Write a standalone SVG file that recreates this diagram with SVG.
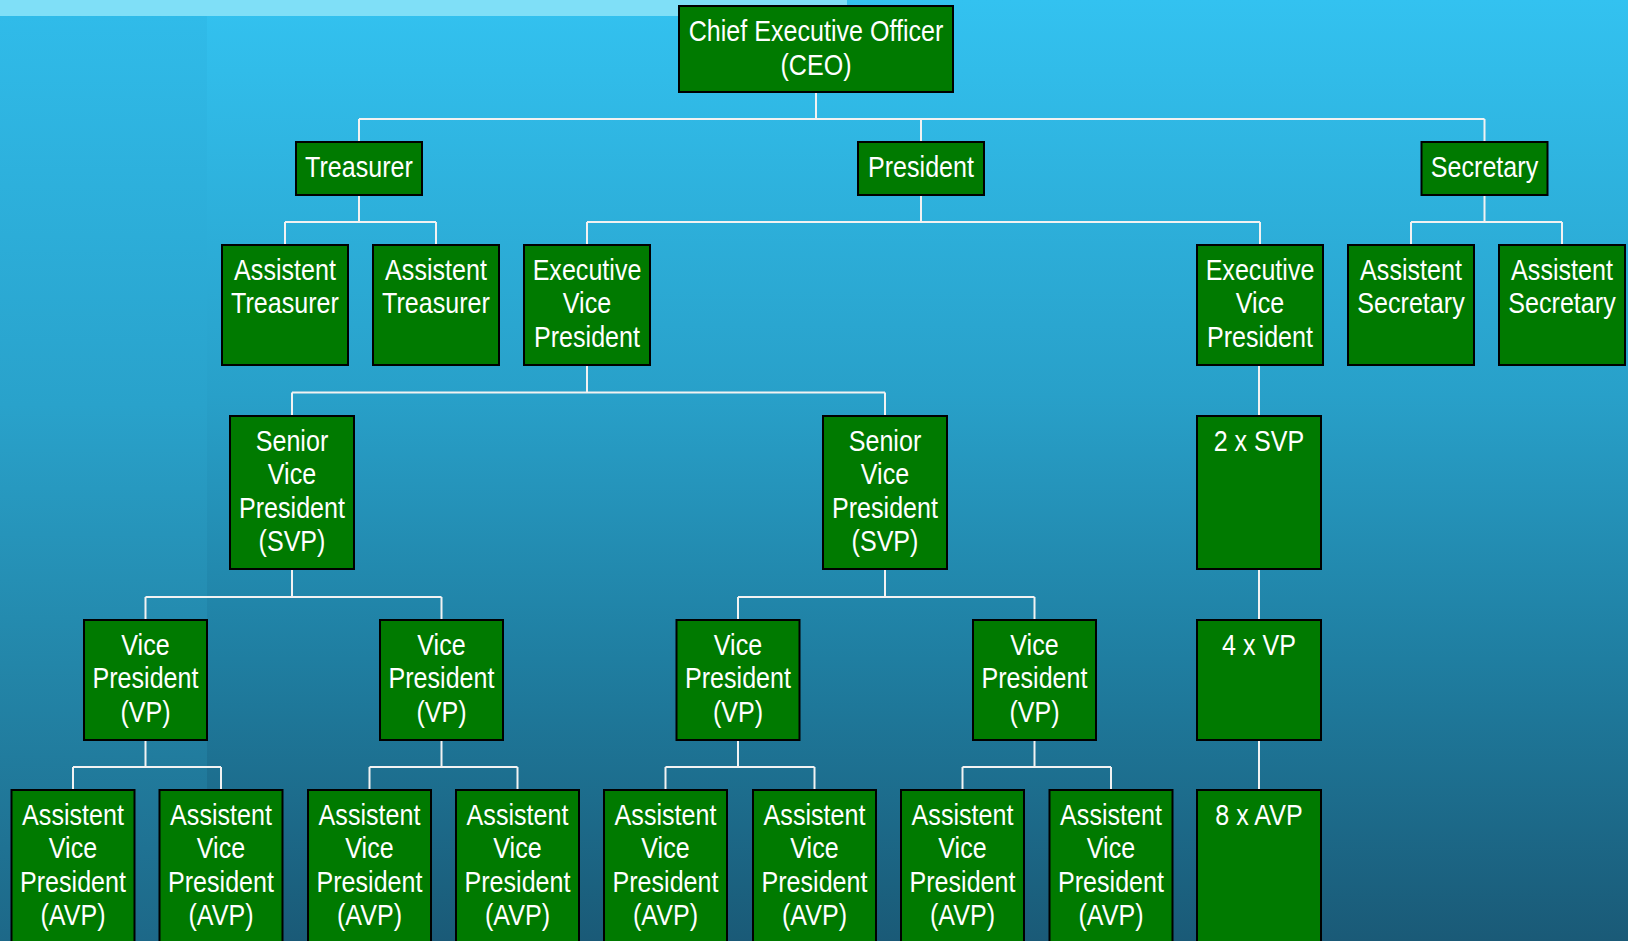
<svg xmlns="http://www.w3.org/2000/svg" width="1628" height="941" viewBox="0 0 1628 941">
<defs>
<linearGradient id="bg" x1="0" y1="0" x2="0" y2="1">
<stop offset="0" stop-color="#33c2f0"/>
<stop offset="0.42" stop-color="#28a0c9"/>
<stop offset="0.7" stop-color="#1f7ea1"/>
<stop offset="1" stop-color="#1a5a77"/>
</linearGradient>
<linearGradient id="bgl" x1="0" y1="0" x2="0" y2="1">
<stop offset="0" stop-color="#30bbe9"/>
<stop offset="0.42" stop-color="#29a2cb"/>
<stop offset="0.7" stop-color="#2386a9"/>
<stop offset="1" stop-color="#1d6888"/>
</linearGradient>
<style>
.box{fill:#007a00;stroke:#000;stroke-width:2}
.lbl{font-family:"Liberation Sans",Arial,sans-serif;font-size:29px;fill:#fff;text-anchor:middle}
.con{fill:none;stroke:#f2f2f2;stroke-width:2}
</style>
</defs>
<rect x="0" y="0" width="1628" height="941" fill="url(#bg)"/>
<rect x="0" y="16" width="207" height="925" fill="url(#bgl)"/>
<rect x="0" y="0" width="847" height="16" fill="#7fdff7"/>

<g id="connectors" class="con">
<path d="M816 92V119M359 119H1484.5M359 119V142M921 119V142M1484.5 119V142"/>
<path d="M359 195V222M285 222H436M285 222V245M436 222V245"/>
<path d="M921 195V222M587 222H1260M587 222V245M1260 222V245"/>
<path d="M1484.5 195V222M1411 222H1562M1411 222V245M1562 222V245"/>
<path d="M587 365V392.5M292 392.5H885M292 392.5V416M885 392.5V416"/>
<path d="M1259 365V416"/>
<path d="M292 569V597M145.5 597H441.5M145.5 597V620M441.5 597V620"/>
<path d="M885 569V597M738 597H1034.5M738 597V620M1034.5 597V620"/>
<path d="M1259 569V620"/>
<path d="M145.5 740V767M73 767H221M73 767V790M221 767V790"/>
<path d="M441.5 740V767M369.5 767H517.5M369.5 767V790M517.5 767V790"/>
<path d="M738 740V767M665.5 767H814.5M665.5 767V790M814.5 767V790"/>
<path d="M1034.5 740V767M962.5 767H1111M962.5 767V790M1111 767V790"/>
<path d="M1259 740V790"/>
</g>

<g id="ceo"><rect class="box" x="679" y="6" width="274" height="86"/>
<text class="lbl" transform="translate(816 0) scale(0.865 1)"><tspan x="0" y="41.5">Chief Executive Officer</tspan><tspan x="0" y="75">(CEO)</tspan></text></g>

<g id="treasurer"><rect class="box" x="296" y="142" width="126" height="53"/>
<text class="lbl" transform="translate(359 0) scale(0.865 1)"><tspan x="0" y="177">Treasurer</tspan></text></g>
<g id="president"><rect class="box" x="858" y="142" width="126" height="53"/>
<text class="lbl" transform="translate(921 0) scale(0.865 1)"><tspan x="0" y="177">President</tspan></text></g>
<g id="secretary"><rect class="box" x="1421.5" y="142" width="126" height="53"/>
<text class="lbl" transform="translate(1484.5 0) scale(0.865 1)"><tspan x="0" y="177">Secretary</tspan></text></g>

<g id="asst-treasurer-1"><rect class="box" x="222" y="245" width="126" height="120"/>
<text class="lbl" transform="translate(285 0) scale(0.865 1)"><tspan x="0" y="280">Assistent</tspan><tspan x="0" y="313.5">Treasurer</tspan></text></g>
<g id="asst-treasurer-2"><rect class="box" x="373" y="245" width="126" height="120"/>
<text class="lbl" transform="translate(436 0) scale(0.865 1)"><tspan x="0" y="280">Assistent</tspan><tspan x="0" y="313.5">Treasurer</tspan></text></g>
<g id="evp-1"><rect class="box" x="524" y="245" width="126" height="120"/>
<text class="lbl" transform="translate(587 0) scale(0.865 1)"><tspan x="0" y="280">Executive</tspan><tspan x="0" y="313.5">Vice</tspan><tspan x="0" y="347">President</tspan></text></g>
<g id="evp-2"><rect class="box" x="1197" y="245" width="126" height="120"/>
<text class="lbl" transform="translate(1260 0) scale(0.865 1)"><tspan x="0" y="280">Executive</tspan><tspan x="0" y="313.5">Vice</tspan><tspan x="0" y="347">President</tspan></text></g>
<g id="asst-secretary-1"><rect class="box" x="1348" y="245" width="126" height="120"/>
<text class="lbl" transform="translate(1411 0) scale(0.865 1)"><tspan x="0" y="280">Assistent</tspan><tspan x="0" y="313.5">Secretary</tspan></text></g>
<g id="asst-secretary-2"><rect class="box" x="1499" y="245" width="126" height="120"/>
<text class="lbl" transform="translate(1562 0) scale(0.865 1)"><tspan x="0" y="280">Assistent</tspan><tspan x="0" y="313.5">Secretary</tspan></text></g>

<g id="svp-1"><rect class="box" x="230" y="416" width="124" height="153"/>
<text class="lbl" transform="translate(292 0) scale(0.865 1)"><tspan x="0" y="451">Senior</tspan><tspan x="0" y="484.5">Vice</tspan><tspan x="0" y="518">President</tspan><tspan x="0" y="551.5">(SVP)</tspan></text></g>
<g id="svp-2"><rect class="box" x="823" y="416" width="124" height="153"/>
<text class="lbl" transform="translate(885 0) scale(0.865 1)"><tspan x="0" y="451">Senior</tspan><tspan x="0" y="484.5">Vice</tspan><tspan x="0" y="518">President</tspan><tspan x="0" y="551.5">(SVP)</tspan></text></g>
<g id="svp-x2"><rect class="box" x="1197" y="416" width="124" height="153"/>
<text class="lbl" transform="translate(1259 0) scale(0.865 1)"><tspan x="0" y="451">2 x SVP</tspan></text></g>

<g id="vp-1"><rect class="box" x="84" y="620" width="123" height="120"/>
<text class="lbl" transform="translate(145.5 0) scale(0.865 1)"><tspan x="0" y="655">Vice</tspan><tspan x="0" y="688.5">President</tspan><tspan x="0" y="722">(VP)</tspan></text></g>
<g id="vp-2"><rect class="box" x="380" y="620" width="123" height="120"/>
<text class="lbl" transform="translate(441.5 0) scale(0.865 1)"><tspan x="0" y="655">Vice</tspan><tspan x="0" y="688.5">President</tspan><tspan x="0" y="722">(VP)</tspan></text></g>
<g id="vp-3"><rect class="box" x="676.5" y="620" width="123" height="120"/>
<text class="lbl" transform="translate(738 0) scale(0.865 1)"><tspan x="0" y="655">Vice</tspan><tspan x="0" y="688.5">President</tspan><tspan x="0" y="722">(VP)</tspan></text></g>
<g id="vp-4"><rect class="box" x="973" y="620" width="123" height="120"/>
<text class="lbl" transform="translate(1034.5 0) scale(0.865 1)"><tspan x="0" y="655">Vice</tspan><tspan x="0" y="688.5">President</tspan><tspan x="0" y="722">(VP)</tspan></text></g>
<g id="vp-x4"><rect class="box" x="1197" y="620" width="124" height="120"/>
<text class="lbl" transform="translate(1259 0) scale(0.865 1)"><tspan x="0" y="655">4 x VP</tspan></text></g>

<g id="avp-1"><rect class="box" x="11.5" y="790" width="123" height="170"/>
<text class="lbl" transform="translate(73 0) scale(0.865 1)"><tspan x="0" y="825">Assistent</tspan><tspan x="0" y="858.5">Vice</tspan><tspan x="0" y="892">President</tspan><tspan x="0" y="925.5">(AVP)</tspan></text></g>
<g id="avp-2"><rect class="box" x="159.5" y="790" width="123" height="170"/>
<text class="lbl" transform="translate(221 0) scale(0.865 1)"><tspan x="0" y="825">Assistent</tspan><tspan x="0" y="858.5">Vice</tspan><tspan x="0" y="892">President</tspan><tspan x="0" y="925.5">(AVP)</tspan></text></g>
<g id="avp-3"><rect class="box" x="308" y="790" width="123" height="170"/>
<text class="lbl" transform="translate(369.5 0) scale(0.865 1)"><tspan x="0" y="825">Assistent</tspan><tspan x="0" y="858.5">Vice</tspan><tspan x="0" y="892">President</tspan><tspan x="0" y="925.5">(AVP)</tspan></text></g>
<g id="avp-4"><rect class="box" x="456" y="790" width="123" height="170"/>
<text class="lbl" transform="translate(517.5 0) scale(0.865 1)"><tspan x="0" y="825">Assistent</tspan><tspan x="0" y="858.5">Vice</tspan><tspan x="0" y="892">President</tspan><tspan x="0" y="925.5">(AVP)</tspan></text></g>
<g id="avp-5"><rect class="box" x="604" y="790" width="123" height="170"/>
<text class="lbl" transform="translate(665.5 0) scale(0.865 1)"><tspan x="0" y="825">Assistent</tspan><tspan x="0" y="858.5">Vice</tspan><tspan x="0" y="892">President</tspan><tspan x="0" y="925.5">(AVP)</tspan></text></g>
<g id="avp-6"><rect class="box" x="753" y="790" width="123" height="170"/>
<text class="lbl" transform="translate(814.5 0) scale(0.865 1)"><tspan x="0" y="825">Assistent</tspan><tspan x="0" y="858.5">Vice</tspan><tspan x="0" y="892">President</tspan><tspan x="0" y="925.5">(AVP)</tspan></text></g>
<g id="avp-7"><rect class="box" x="901" y="790" width="123" height="170"/>
<text class="lbl" transform="translate(962.5 0) scale(0.865 1)"><tspan x="0" y="825">Assistent</tspan><tspan x="0" y="858.5">Vice</tspan><tspan x="0" y="892">President</tspan><tspan x="0" y="925.5">(AVP)</tspan></text></g>
<g id="avp-8"><rect class="box" x="1049.5" y="790" width="123" height="170"/>
<text class="lbl" transform="translate(1111 0) scale(0.865 1)"><tspan x="0" y="825">Assistent</tspan><tspan x="0" y="858.5">Vice</tspan><tspan x="0" y="892">President</tspan><tspan x="0" y="925.5">(AVP)</tspan></text></g>
<g id="avp-x8"><rect class="box" x="1197" y="790" width="124" height="170"/>
<text class="lbl" transform="translate(1259 0) scale(0.865 1)"><tspan x="0" y="825">8 x AVP</tspan></text></g>
</svg>
